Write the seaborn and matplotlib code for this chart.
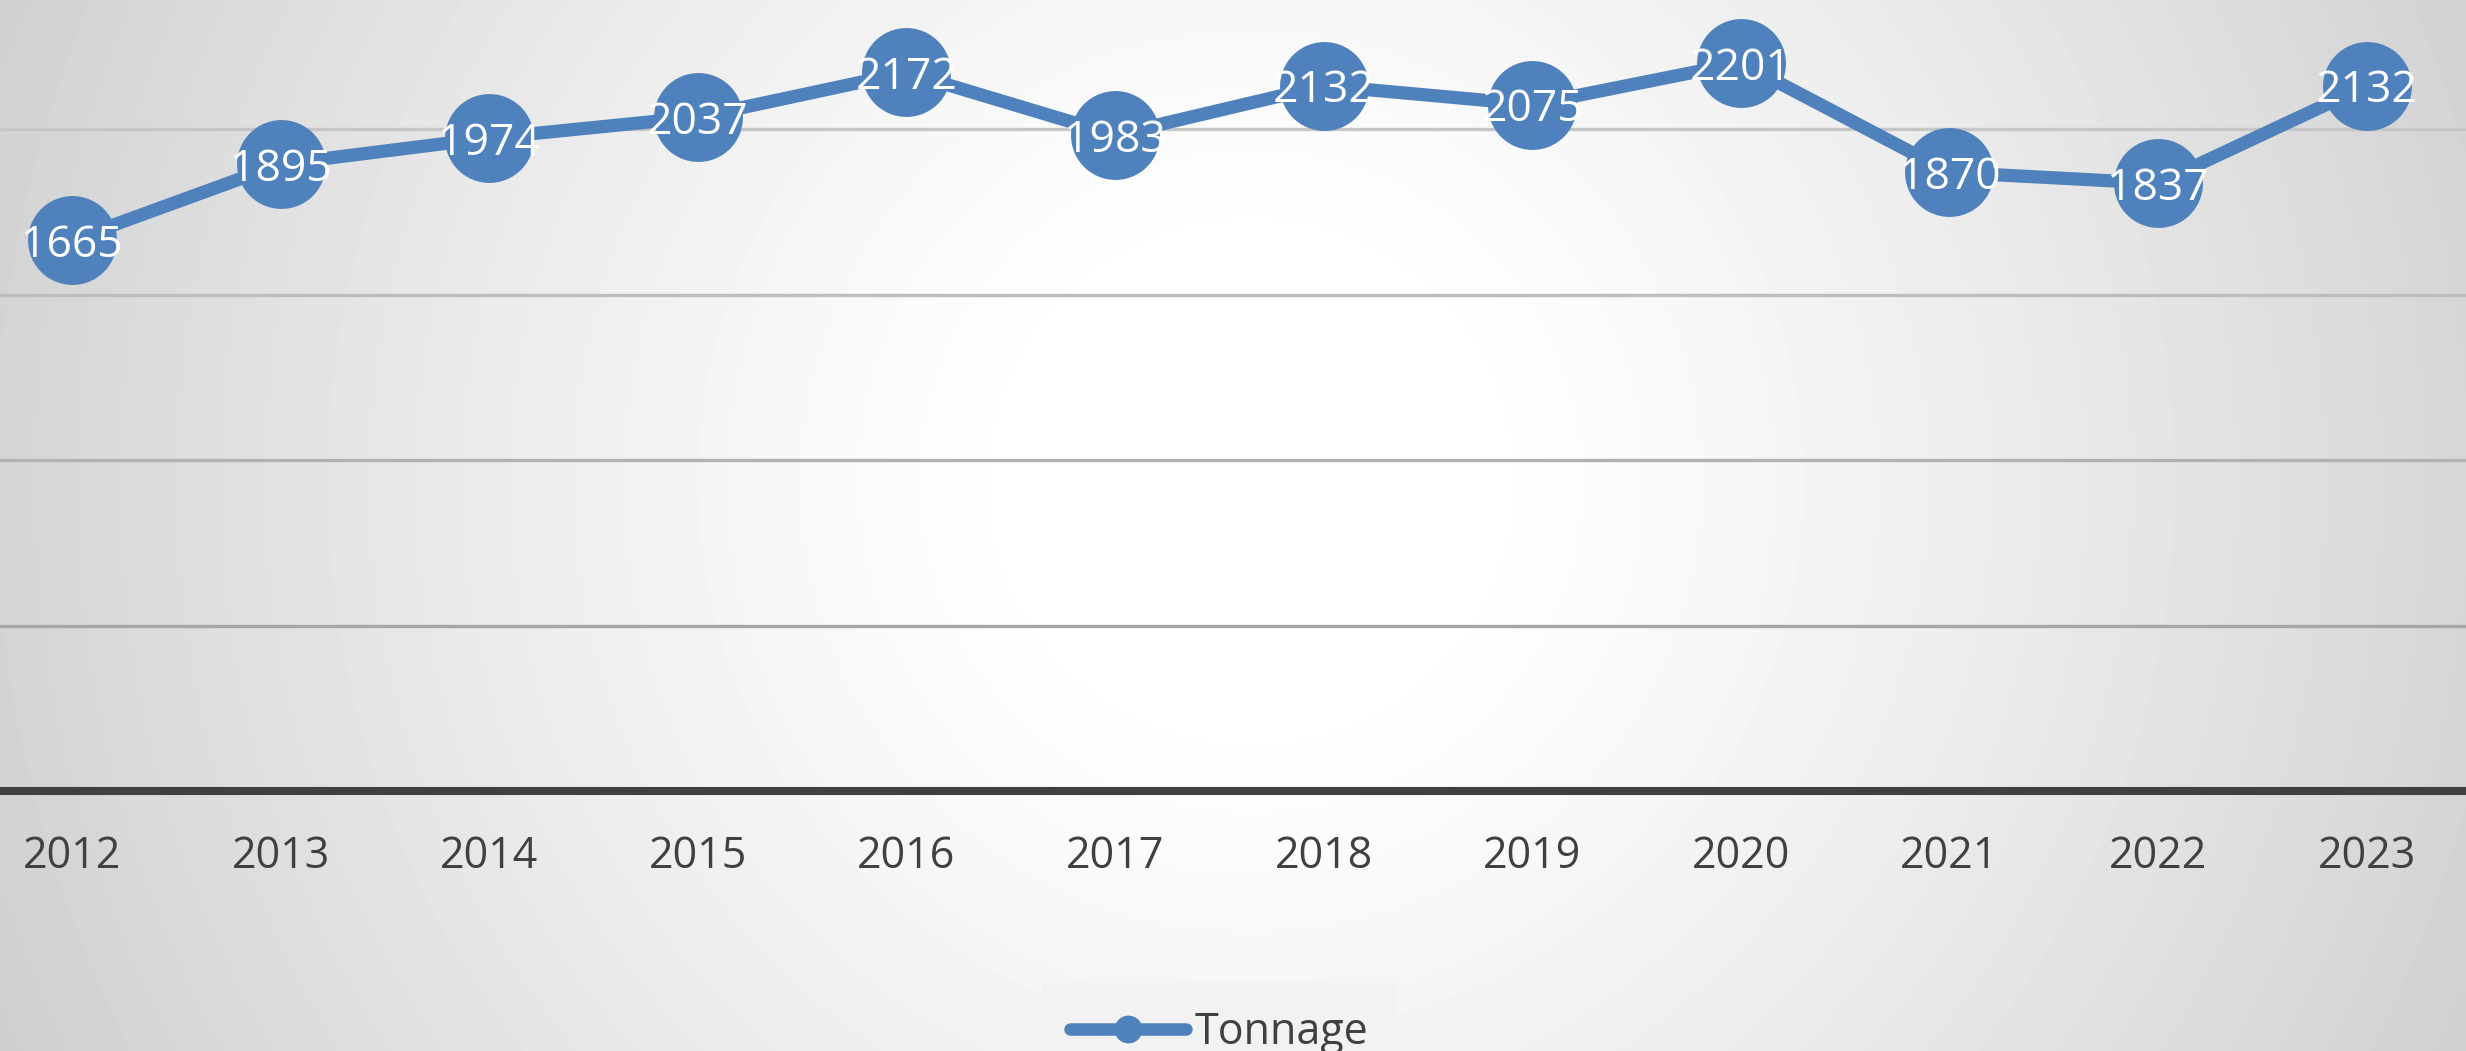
import matplotlib
matplotlib.use("Agg")
import matplotlib.pyplot as plt
import seaborn as sns
import numpy as np
import pandas as pd

# donnees
annees = [2012, 2013, 2014, 2015, 2016, 2017, 2018, 2019, 2020, 2021, 2022, 2023]
tonnage = [1665, 1895, 1974, 2037, 2172, 1983, 2132, 2075, 2201, 1870, 1837, 2132]
serie_nom = "Tonnage"
graduations = [0, 500, 1000, 1500, 2000]

BLEU = "#4F81BD"
GRIS_TEXTE = "#404040"

sns.set_style("white")
plt.rcParams['font.family'] = ['Open Sans', 'DejaVu Sans']

W, H, DPI = 2466, 1051, 100
fig = plt.figure(figsize=(W / DPI, H / DPI), dpi=DPI)

# fond en degrade radial (blanc au centre, gris sur les bords)
fond = fig.add_axes([0, 0, 1, 1], zorder=0)
yy, xx = np.mgrid[0:H:4, 0:W:4]
d = np.sqrt((xx - 1250.0) ** 2 + (yy - 480.0) ** 2)
t = np.clip((d - 220.0) / 1150.0, 0, 1)
niveau = 1.0 - 0.19 * t ** 1.2
fond.imshow(niveau, cmap="gray", vmin=0, vmax=1, aspect="auto",
            extent=[0, 1, 0, 1], interpolation="bilinear")
fond.axis("off")

df = pd.DataFrame({"annee": annees, serie_nom: tonnage})

bas = (H - 791.0) / H
ax = fig.add_axes([0, bas, 1, 1 - bas], zorder=1)
ax.patch.set_alpha(0)

sns.lineplot(data=df, x="annee", y=serie_nom, ax=ax, color=BLEU,
             linewidth=9.5, marker="o", markersize=64, markeredgewidth=0,
             label=serie_nom, legend=False, zorder=3)

for a, v in zip(annees, tonnage):
    ax.text(a, v, str(v), color="white", fontsize=32, ha="center",
            va="center_baseline", zorder=4)

ax.set_xlim(annees[0] - 0.345, annees[0] + 11.476)
ax.set_ylim(0, 2391)
ax.set_xticks(annees)
ax.set_xticklabels([str(a) for a in annees])
ax.set_yticks(graduations)
ax.set_yticklabels([])
ax.tick_params(axis="x", length=0, pad=31, labelsize=31, labelcolor=GRIS_TEXTE)
ax.tick_params(axis="y", length=0)
ax.set_xlabel("")
ax.set_ylabel("")

ax.yaxis.grid(True, linewidth=2.4)
couleurs_grille = ["#a0a0a0", "#a6a6a6", "#b2b2b2", "#bdbdbd", "#c6c6c6"]
for ligne, c in zip(ax.get_ygridlines(), couleurs_grille):
    ligne.set_color(c)
ax.set_axisbelow(True)

for cote in ["top", "left", "right"]:
    ax.spines[cote].set_visible(False)
ax.spines["bottom"].set_color(GRIS_TEXTE)
ax.spines["bottom"].set_linewidth(5.8)
ax.spines["bottom"].set_zorder(2)

poignee = plt.Line2D([], [], color=BLEU, linewidth=9, marker="o",
                     markersize=19, solid_capstyle="round")
leg = fig.legend([poignee], [serie_nom], loc="upper center",
                 bbox_to_anchor=(0.4945, 1 - 983.0 / H), frameon=True,
                 fancybox=False, facecolor="#f2f2f2", edgecolor="none",
                 framealpha=1, fontsize=31, handlelength=2.7,
                 handletextpad=0.2, borderpad=0.65, borderaxespad=0)
for txt in leg.get_texts():
    txt.set_color(GRIS_TEXTE)

fig.savefig("out.png", dpi=DPI)
